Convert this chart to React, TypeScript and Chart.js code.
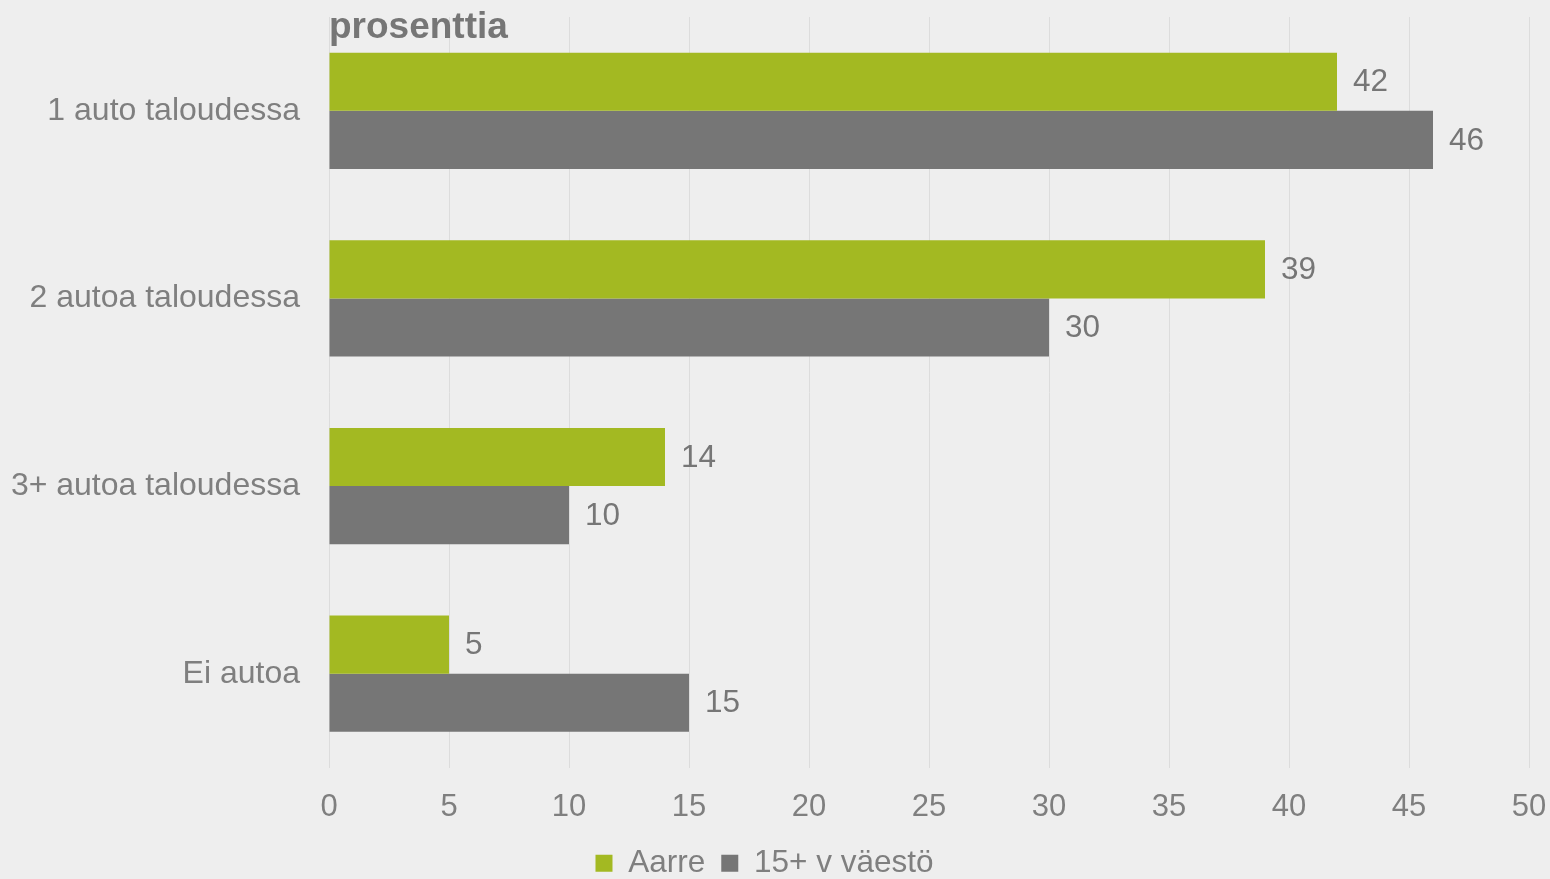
import React, { useEffect, useRef } from "react";
import { Chart, registerables } from "chart.js";

Chart.register(...registerables);

const categories = ["1 auto taloudessa", "2 autoa taloudessa", "3+ autoa taloudessa", "Ei autoa"];
const seriesNames = ["Aarre", "15+ v väestö"];
const aarreValues = [42, 39, 14, 5];
const populationValues = [46, 30, 10, 15];
const titleText = "prosenttia";
const xMin = 0;
const xMax = 50;
const xStep = 5;

const GREEN = "#A3B922";
const GRAY = "#767676";
const TEXT = "#7F7F7F";
const FONT = '"Liberation Sans", Arial, sans-serif';

const valueLabelPlugin = {
  id: "valueLabels",
  afterDatasetsDraw(chart: any) {
    const ctx = chart.ctx;
    ctx.save();
    ctx.font = `31.5px ${FONT}`;
    ctx.fillStyle = GRAY;
    ctx.textAlign = "left";
    ctx.textBaseline = "middle";
    chart.data.datasets.forEach((ds: any, di: number) => {
      const meta = chart.getDatasetMeta(di);
      meta.data.forEach((bar: any, i: number) => {
        ctx.fillText(String(ds.data[i]), bar.x + 16, bar.y + 1);
      });
    });
    ctx.restore();
  },
};

const titlePlugin = {
  id: "cornerTitle",
  afterDraw(chart: any) {
    const ctx = chart.ctx;
    ctx.save();
    ctx.font = `bold 37px ${FONT}`;
    ctx.fillStyle = GRAY;
    ctx.textAlign = "left";
    ctx.textBaseline = "alphabetic";
    ctx.fillText(titleText, chart.chartArea.left, 38);
    ctx.restore();
  },
};

export default function App() {
  const canvasRef = useRef<HTMLCanvasElement | null>(null);

  useEffect(() => {
    document.body.style.margin = "0";
    document.body.style.background = "#EEEEEE";
    const canvas = canvasRef.current;
    if (!canvas) return;
    const chart = new Chart(canvas, {
      type: "bar",
      data: {
        labels: categories,
        datasets: [
          { label: seriesNames[0], data: aarreValues, backgroundColor: GREEN, categoryPercentage: 0.62, barPercentage: 1 },
          { label: seriesNames[1], data: populationValues, backgroundColor: GRAY, categoryPercentage: 0.62, barPercentage: 1 },
        ],
      },
      options: {
        indexAxis: "y",
        animation: false,
        responsive: false,
        maintainAspectRatio: false,
        layout: { padding: { top: 17, right: 21, left: 0, bottom: -10 } },
        plugins: {
          legend: {
            position: "bottom",
            labels: {
              boxWidth: 17,
              boxHeight: 17,
              padding: 16,
              color: TEXT,
              font: { family: FONT, size: 31.5 },
            },
          },
          tooltip: { enabled: false },
          title: { display: false },
        },
        scales: {
          x: {
            min: xMin,
            max: xMax,
            ticks: { stepSize: xStep, color: TEXT, font: { family: FONT, size: 31 }, padding: 21 },
            grid: { color: "#DCDCDC", lineWidth: 1, drawTicks: false },
            border: { display: false },
            afterFit(scale: any) {
              scale.height = 64;
              scale.paddingLeft = 0;
              scale.paddingRight = 0;
            },
          },
          y: {
            ticks: { color: TEXT, font: { family: FONT, size: 32 }, padding: 29 },
            grid: { display: false, drawTicks: false },
            border: { display: false },
            afterFit(scale: any) {
              scale.width = 329;
              scale.paddingTop = 0;
              scale.paddingBottom = 0;
            },
          },
        },
      },
      plugins: [valueLabelPlugin, titlePlugin],
    });
    return () => chart.destroy();
  }, []);

  return (
    <div style={{ width: 1550, height: 879, background: "#EEEEEE" }}>
      <canvas ref={canvasRef} width={1550} height={879} style={{ display: "block" }} />
    </div>
  );
}
